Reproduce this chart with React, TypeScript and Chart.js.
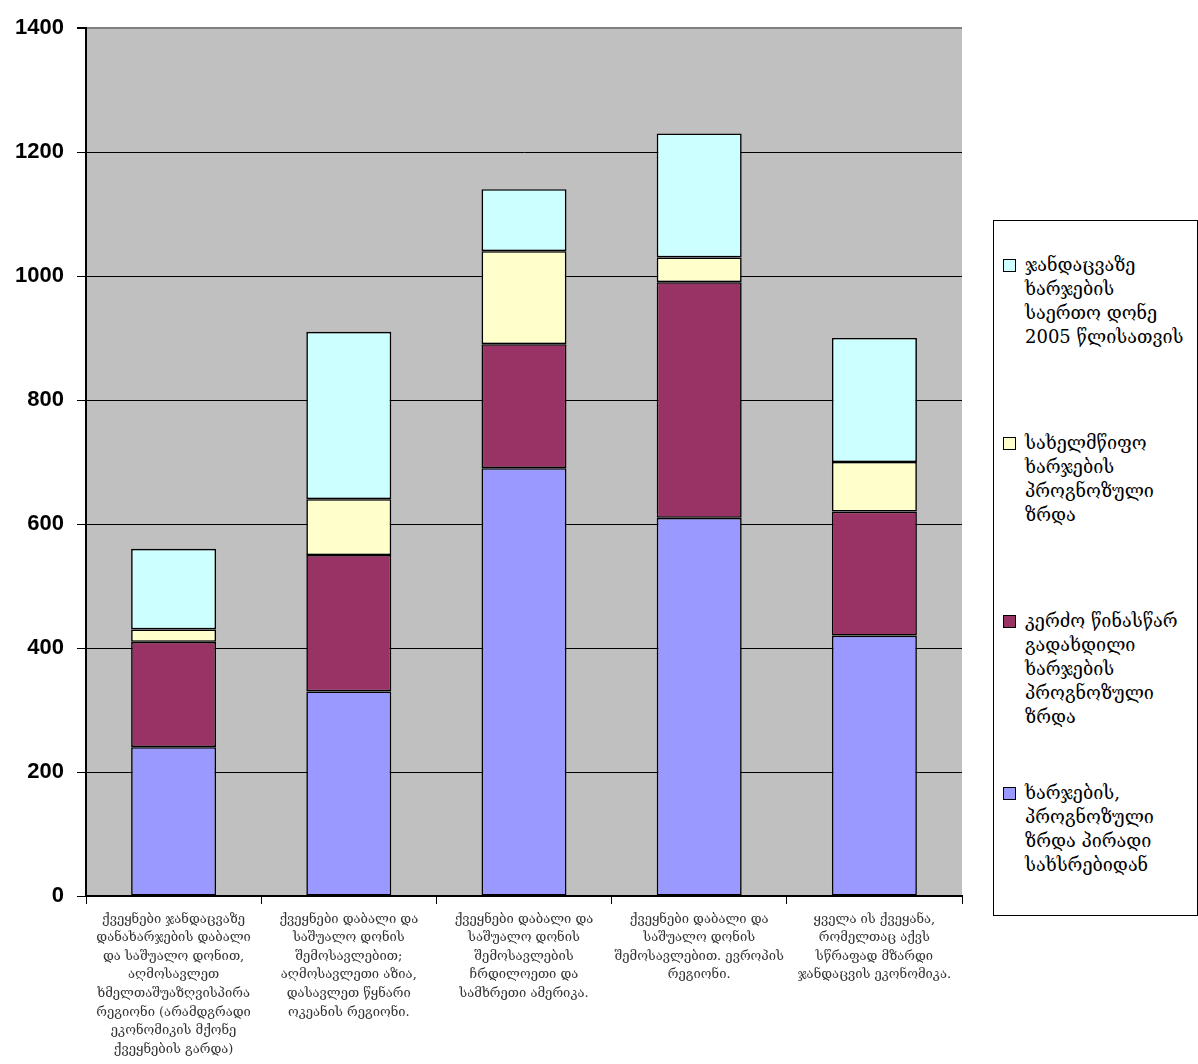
import React, { useEffect, useRef } from "react";
import { Chart, registerables } from "chart.js";

Chart.register(...registerables);

const categories: string[][] = [
  [
    "ქვეყნები ჯანდაცვაზე",
    "დანახარჯების დაბალი",
    "და საშუალო დონით,",
    "აღმოსავლეთ",
    "ხმელთაშუაზღვისპირა",
    "რეგიონი (არამდგრადი",
    "ეკონომიკის მქონე",
    "ქვეყნების გარდა)",
  ],
  [
    "ქვეყნები დაბალი და",
    "საშუალო დონის",
    "შემოსავლებით;",
    "აღმოსავლეთი აზია,",
    "დასავლეთ წყნარი",
    "ოკეანის რეგიონი.",
  ],
  [
    "ქვეყნები დაბალი და",
    "საშუალო დონის",
    "შემოსავლების",
    "ჩრდილოეთი და",
    "სამხრეთი ამერიკა.",
  ],
  [
    "ქვეყნები დაბალი და",
    "საშუალო დონის",
    "შემოსავლებით. ევროპის",
    "რეგიონი.",
  ],
  [
    "ყველა ის ქვეყანა,",
    "რომელთაც აქვს",
    "სწრაფად მზარდი",
    "ჯანდაცვის ეკონომიკა.",
  ],
];

const seriesNames: string[][] = [
  ["ხარჯების,", "პროგნოზული", "ზრდა პირადი", "სახსრებიდან"],
  ["კერძო წინასწარ", "გადახდილი", "ხარჯების", "პროგნოზული", "ზრდა"],
  ["სახელმწიფო", "ხარჯების", "პროგნოზული", "ზრდა"],
  ["ჯანდაცვაზე", "ხარჯების", "საერთო დონე", "2005 წლისათვის"],
];

const ownFundsGrowth = [240, 330, 690, 610, 420];
const privatePrepaidGrowth = [170, 220, 200, 380, 200];
const governmentGrowth = [20, 90, 150, 40, 80];
const totalLevel2005 = [130, 270, 100, 200, 200];

const seriesColors = ["#9999FF", "#993366", "#FFFFCC", "#CCFFFF"];

const yTicks = [0, 200, 400, 600, 800, 1000, 1200, 1400];

const GEO_FONT = '"DejaVu Serif", "DejaVu Sans", serif';

// legend item layout (top positions in px)
const legendTops = [252, 430, 608, 780];
const legendOrder = [3, 2, 1, 0];

const plotBg = {
  id: "plotBg",
  beforeDraw(chart: any) {
    const { ctx, chartArea } = chart;
    ctx.save();
    ctx.fillStyle = "#C0C0C0";
    ctx.fillRect(chartArea.left, chartArea.top, chartArea.right - chartArea.left, chartArea.bottom - chartArea.top);
    ctx.restore();
  },
};

export default function App() {
  const ref = useRef<HTMLCanvasElement | null>(null);

  useEffect(() => {
    if (!ref.current) return;
    const values = [ownFundsGrowth, privatePrepaidGrowth, governmentGrowth, totalLevel2005];
    const chart = new Chart(ref.current, {
      type: "bar",
      data: {
        labels: categories,
        datasets: values.map((v, i) => ({
          label: seriesNames[i].join(" "),
          data: v,
          backgroundColor: seriesColors[i],
          borderColor: "#000000",
          borderWidth: 1.6,
          borderSkipped: false,
          barPercentage: 0.485,
          categoryPercentage: 1,
        })),
      },
      options: {
        animation: false,
        responsive: false,
        maintainAspectRatio: false,
        layout: { padding: { left: 0, right: 236, top: 28, bottom: 0 } },
        plugins: {
          legend: { display: false },
          tooltip: { enabled: false },
        },
        scales: {
          x: {
            stacked: true,
            border: { display: true, color: "#000000", width: 2 },
            grid: {
              offset: true,
              drawOnChartArea: false,
              drawTicks: true,
              tickLength: 8,
              color: "#000000",
              lineWidth: 1,
            },
            ticks: {
              autoSkip: false,
              maxRotation: 0,
              minRotation: 0,
              padding: 6,
              color: "#333333",
              font: { family: GEO_FONT, size: 13, lineHeight: 1.43 },
            },
            afterFit: (scale: any) => {
              scale.height = 1064 - 896;
            },
          },
          y: {
            stacked: true,
            min: 0,
            max: 1400,
            border: { display: true, color: "#000000", width: 2 },
            grid: {
              color: (c: any) => (c.tick && c.tick.value === 1400 ? "#808080" : "#000000"),
              lineWidth: (c: any) => (c.tick && c.tick.value === 1400 ? 2 : 1),
              tickColor: "#000000",
              drawTicks: true,
              tickLength: 9,
            },
            afterBuildTicks: (scale: any) => {
              scale.ticks = yTicks.map((v) => ({ value: v }));
            },
            ticks: {
              padding: 13,
              color: "#000000",
              callback: (v: any) => String(v),
              font: { family: '"Liberation Sans", Arial, sans-serif', size: 22, weight: "bold" },
            },
            afterFit: (scale: any) => {
              scale.width = 86;
            },
          },
        },
      },
      plugins: [plotBg],
    });
    return () => chart.destroy();
  }, []);

  return (
    <div style={{ position: "absolute", left: 0, top: 0, width: 1198, height: 1064, background: "#fff" }}>
      <canvas ref={ref} width={1198} height={1064} style={{ position: "absolute", left: 0, top: 0 }} />
      <div
        style={{
          position: "absolute",
          left: 993,
          top: 220,
          width: 203,
          height: 694,
          border: "1px solid #000",
          overflow: "hidden",
          background: "#fff",
        }}
      >
        {legendOrder.map((si, k) => (
          <div
            key={si}
            style={{
              position: "absolute",
              left: 0,
              top: legendTops[k] - 220,
              width: 210,
              fontFamily: GEO_FONT,
              fontSize: 18,
              lineHeight: "24px",
              color: "#000",
              whiteSpace: "nowrap",
            }}
          >
            <span
              style={{
                position: "absolute",
                left: 9,
                top: 6,
                width: 11,
                height: 11,
                background: seriesColors[si],
                border: "1.5px solid #000",
              }}
            />
            <div style={{ marginLeft: 31 }}>
              {seriesNames[si].map((line, j) => (
                <div key={j}>{line}</div>
              ))}
            </div>
          </div>
        ))}
      </div>
    </div>
  );
}
